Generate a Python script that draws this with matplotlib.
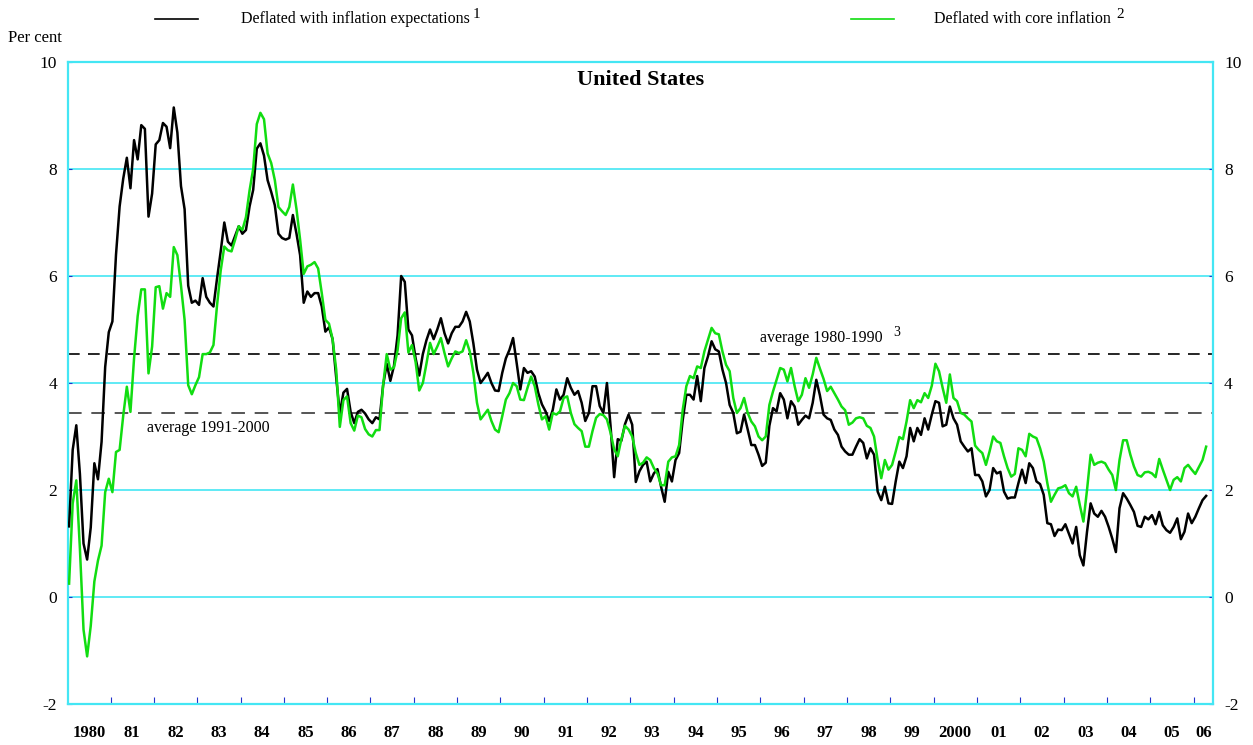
import numpy as np;
import matplotlib;
matplotlib.use('Agg');
import matplotlib.pyplot as plt;
from matplotlib.lines import Line2D;

# monthly real rates, Jan 1980 .. Apr 2006 (per cent)
black = [
1.32, 2.75, 3.21, 2.3, 1.0, 0.7, 1.3, 2.5, 2.2, 2.9, 4.3, 4.95,
5.15, 6.4, 7.3, 7.82, 8.21, 7.64, 8.54, 8.18, 8.82, 8.75, 7.11, 7.54,
8.46, 8.54, 8.86, 8.79, 8.39, 9.15, 8.68, 7.68, 7.25, 5.82, 5.5, 5.54,
5.46, 5.96, 5.61, 5.5, 5.43, 5.96, 6.46, 7.0, 6.64, 6.57, 6.75, 6.93,
6.79, 6.86, 7.3, 7.61, 8.38, 8.48, 8.25, 7.79, 7.57, 7.32, 6.79, 6.71,
6.68, 6.71, 7.14, 6.79, 6.39, 5.5, 5.71, 5.61, 5.68, 5.68, 5.43, 4.96,
5.04, 4.82, 4.1, 3.43, 3.82, 3.89, 3.46, 3.25, 3.46, 3.5, 3.43, 3.32,
3.25, 3.36, 3.32, 3.96, 4.36, 4.04, 4.32, 4.89, 6.0, 5.89, 5.0, 4.89,
4.46, 4.14, 4.54, 4.8, 5.0, 4.82, 5.0, 5.21, 4.93, 4.74, 4.93, 5.05,
5.05, 5.15, 5.33, 5.15, 4.74, 4.25, 4.0, 4.09, 4.19, 4.0, 3.86, 3.85,
4.19, 4.46, 4.62, 4.84, 4.37, 3.88, 4.28, 4.19, 4.22, 4.12, 3.81, 3.6,
3.47, 3.29, 3.5, 3.88, 3.69, 3.78, 4.09, 3.91, 3.78, 3.85, 3.63, 3.29,
3.44, 3.94, 3.94, 3.57, 3.44, 4.0, 3.2, 2.24, 2.95, 2.92, 3.23, 3.41,
3.22, 2.15, 2.35, 2.47, 2.53, 2.16, 2.31, 2.39, 2.06, 1.78, 2.34, 2.16,
2.56, 2.69, 3.31, 3.78, 3.78, 3.69, 4.13, 3.66, 4.28, 4.5, 4.78, 4.63,
4.59, 4.25, 4.0, 3.59, 3.44, 3.06, 3.09, 3.41, 3.13, 2.84, 2.84, 2.66,
2.45, 2.51, 3.2, 3.53, 3.47, 3.81, 3.69, 3.34, 3.66, 3.56, 3.22, 3.31,
3.39, 3.34, 3.63, 4.06, 3.77, 3.41, 3.34, 3.31, 3.13, 3.03, 2.81, 2.72,
2.66, 2.66, 2.81, 2.95, 2.88, 2.59, 2.78, 2.66, 1.97, 1.81, 2.06, 1.75,
1.74, 2.16, 2.53, 2.41, 2.63, 3.16, 2.91, 3.16, 3.03, 3.34, 3.13, 3.41,
3.66, 3.63, 3.19, 3.22, 3.56, 3.34, 3.22, 2.91, 2.81, 2.72, 2.78, 2.28,
2.28, 2.16, 1.88, 2.0, 2.41, 2.31, 2.34, 1.97, 1.84, 1.86, 1.86, 2.13,
2.38, 2.13, 2.5, 2.41, 2.16, 2.11, 1.91, 1.38, 1.36, 1.14, 1.26, 1.25,
1.36, 1.18, 1.0, 1.31, 0.78, 0.59, 1.22, 1.75, 1.56, 1.5, 1.61, 1.5,
1.31, 1.09, 0.84, 1.66, 1.94, 1.84, 1.72, 1.59, 1.33, 1.31, 1.5, 1.45,
1.53, 1.36, 1.59, 1.34, 1.25, 1.2, 1.31, 1.47, 1.08, 1.22, 1.56, 1.38,
1.5, 1.66, 1.81, 1.89];

green = [
0.25, 1.75, 2.18, 0.9, -0.61, -1.11, -0.54, 0.29, 0.68, 0.96, 1.96, 2.21,
1.96, 2.71, 2.75, 3.39, 3.93, 3.46, 4.46, 5.25, 5.75, 5.75, 4.18, 4.68,
5.79, 5.81, 5.39, 5.68, 5.61, 6.54, 6.39, 5.82, 5.18, 3.96, 3.79, 3.96,
4.11, 4.54, 4.54, 4.57, 4.71, 5.46, 6.1, 6.55, 6.48, 6.46, 6.68, 6.93,
6.86, 7.1, 7.6, 8.0, 8.84, 9.05, 8.93, 8.29, 8.11, 7.79, 7.29, 7.21,
7.14, 7.29, 7.71, 7.25, 6.68, 6.04, 6.18, 6.21, 6.26, 6.14, 5.68, 5.18,
5.11, 4.82, 4.25, 3.18, 3.68, 3.75, 3.25, 3.11, 3.39, 3.36, 3.14, 3.04,
3.0, 3.12, 3.12, 3.96, 4.54, 4.25, 4.29, 4.61, 5.21, 5.32, 4.57, 4.71,
4.39, 3.86, 4.0, 4.36, 4.75, 4.54, 4.68, 4.84, 4.56, 4.31, 4.46, 4.59,
4.56, 4.59, 4.8, 4.59, 4.19, 3.63, 3.32, 3.41, 3.5, 3.29, 3.13, 3.08,
3.38, 3.69, 3.81, 4.0, 3.94, 3.69, 3.68, 3.91, 4.12, 3.94, 3.6, 3.32,
3.38, 3.13, 3.44, 3.41, 3.47, 3.72, 3.75, 3.44, 3.23, 3.16, 3.1, 2.81,
2.81, 3.1, 3.35, 3.42, 3.4, 3.32, 3.07, 2.76, 2.63, 2.95, 3.2, 3.13,
3.0, 2.69, 2.47, 2.51, 2.61, 2.56, 2.41, 2.31, 2.09, 2.09, 2.53, 2.61,
2.63, 2.84, 3.5, 3.94, 4.13, 4.09, 4.31, 4.28, 4.59, 4.81, 5.03, 4.93,
4.91, 4.59, 4.34, 4.22, 3.72, 3.44, 3.53, 3.72, 3.44, 3.28, 3.19, 3.0,
2.93, 3.0, 3.59, 3.84, 4.06, 4.28, 4.25, 4.03, 4.28, 3.94, 3.66, 3.78,
4.09, 3.91, 4.16, 4.47, 4.27, 4.08, 3.85, 3.93, 3.81, 3.69, 3.56, 3.49,
3.22, 3.26, 3.34, 3.36, 3.34, 3.2, 3.16, 3.0, 2.56, 2.22, 2.56, 2.38,
2.47, 2.72, 2.99, 2.95, 3.28, 3.68, 3.53, 3.68, 3.64, 3.81, 3.72, 3.95,
4.36, 4.22, 3.91, 3.63, 4.16, 3.72, 3.66, 3.44, 3.41, 3.34, 3.28, 2.83,
2.75, 2.69, 2.47, 2.72, 3.0, 2.91, 2.88, 2.63, 2.41, 2.25, 2.3, 2.78,
2.75, 2.63, 3.05, 3.0, 2.97, 2.78, 2.53, 2.13, 1.78, 1.91, 2.03, 2.05,
2.09, 1.94, 1.88, 2.06, 1.72, 1.41, 2.0, 2.66, 2.47, 2.51, 2.53, 2.5,
2.38, 2.28, 2.0, 2.56, 2.93, 2.93, 2.66, 2.44, 2.28, 2.25, 2.33, 2.34,
2.31, 2.24, 2.58, 2.38, 2.19, 2.0, 2.19, 2.24, 2.16, 2.41, 2.47, 2.38,
2.3, 2.43, 2.56, 2.81];

avg_8090 = 4.54;
avg_9100 = 3.44;

year_labels = ['1980', '81', '82', '83', '84', '85', '86', '87', '88', '89',
               '90', '91', '92', '93', '94', '95', '96', '97', '98', '99',
               '2000', '01', '02', '03', '04', '05', '06'];

CYAN = '#44e6f4';
GREEN = '#11dd11';
TICKC = '#2233cc';
FONT = 'Liberation Serif';

plt.rcParams['font.family'] = [FONT, 'DejaVu Serif'];
plt.rcParams['axes.unicode_minus'] = False;

W = 1253.0;
H = 745.0;

fig = plt.figure(figsize=(W/100, H/100), dpi=100);
ax = fig.add_axes([68/W, 41/H, 1145/W, 642/H]);

x = np.arange(len(black));
n = len(black);

for v in [0, 2, 4, 6, 8]:
    ax.axhline(v, color=CYAN, lw=1.2, zorder=1);

ax.axhline(avg_8090, color='black', lw=1.2, dashes=(7, 5), zorder=2);
ax.axhline(avg_9100, color='#555555', lw=1.4, dashes=(7, 5), zorder=2);

ax.plot(x, black, color='black', lw=1.8, zorder=3);
ax.plot(x, green, color=GREEN, lw=1.8, zorder=4);

ax.set_xlim(-0.3, n + 0.9);
ax.set_ylim(-2, 10);

for s in ax.spines.values():
    s.set_color(CYAN);
    s.set_linewidth(1.6);

ax.set_yticks(range(-2, 11, 2));
ax.tick_params(axis='y', direction='in', length=3, color=TICKC, labelsize=12.5,
               left=True, right=True, labelleft=True, labelright=True, pad=8);

ax.set_xticks(np.arange(11.5, n - 1, 12));
ax.set_xticklabels([]);
ax.tick_params(axis='x', direction='in', length=5, color=TICKC, width=0.8);

# year labels centred on each year
xt = ax.get_xaxis_transform();
for i, lab in enumerate(year_labels):
    if i < len(year_labels) - 1:
        cx = 12*i + 5.5;
    else:
        cx = (12*i - 0.5 + n + 0.9) / 2.0;
    ax.text(cx, -0.045, lab, transform=xt, ha='center', va='center',
            fontsize=12, fontweight='bold');

ax.text(0.5, 0.972, 'United States', transform=ax.transAxes, ha='center', va='center',
        fontsize=16, fontweight='bold');

ax.text(191.4, 4.84, 'average 1980-1990', ha='left', va='center', fontsize=11.5);
ax.text(228.3, 4.95, '3', ha='left', va='center', fontsize=10);
ax.text(21.6, 3.16, 'average 1991-2000', ha='left', va='center', fontsize=11.5);

fig.text(8/W, 1 - 38/H, 'Per cent', ha='left', va='center', fontsize=12);

# legend
fig.add_artist(Line2D([155/W, 198/W], [1 - 19/H, 1 - 19/H], color='black', lw=1.2));
fig.text(241/W, 1 - 19/H, 'Deflated with inflation expectations', ha='left', va='center', fontsize=11.5);
fig.text(473/W, 1 - 15/H, '1', ha='left', va='center', fontsize=11);
fig.add_artist(Line2D([851/W, 894/W], [1 - 19/H, 1 - 19/H], color=GREEN, lw=1.2));
fig.text(934/W, 1 - 19/H, 'Deflated with core inflation', ha='left', va='center', fontsize=11.5);
fig.text(1116/W, 1 - 15/H, '2', ha='left', va='center', fontsize=11);

plt.savefig('out.png', dpi=100);
